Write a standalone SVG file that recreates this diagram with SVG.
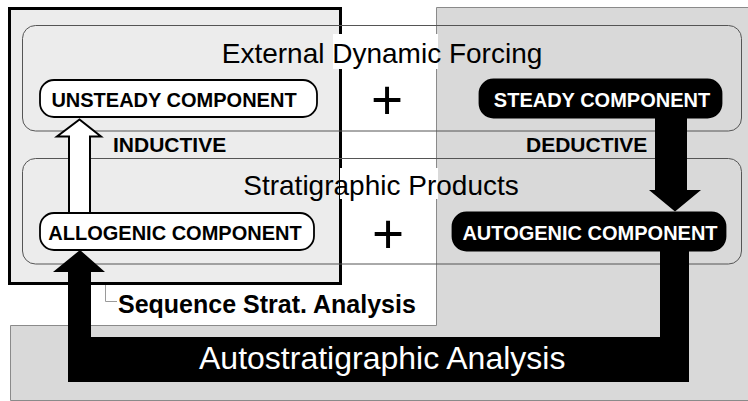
<svg xmlns="http://www.w3.org/2000/svg" width="748" height="401" viewBox="0 0 748 401">
  <style>
    .title { font-family: "Liberation Sans", Arial, sans-serif; font-size: 28px; fill: #000; text-anchor: middle; }
    .node-light rect { fill: #fff; stroke: #000; stroke-width: 1.8; }
    .node-dark rect { fill: #000; stroke: #000; stroke-width: 1.8; }
    .node-light text, .node-dark text { font-family: "Liberation Sans", Arial, sans-serif; font-weight: bold; font-size: 20px; text-anchor: middle; }
    .node-light text { fill: #000; }
    .node-dark text { fill: #fff; }
    .label { font-family: "Liberation Sans", Arial, sans-serif; font-weight: bold; font-size: 21px; fill: #000; }
    .plus { font-family: "Liberation Sans", Arial, sans-serif; font-size: 55px; fill: #000; text-anchor: middle; }
    .frame { fill: none; stroke: #555; stroke-width: 1; }
    .patch { fill: #fff; }
  </style>

  <!-- background -->
  <rect x="0" y="0" width="748" height="401" fill="#fff"/>

  <!-- autostratigraphic domain (grey L-shaped field) -->
  <path d="M436.5,7.5 H752 V400.5 H10.5 V325.5 H436.5 Z" fill="#d9d9d9" stroke="#8a8a8a" stroke-width="1"/>

  <!-- sequence stratigraphic domain (black frame) -->
  <rect id="seq-frame" x="9.5" y="8.5" width="331" height="275" fill="#ececec" stroke="#000" stroke-width="3"/>

  <!-- rounded panels -->
  <rect class="frame" x="22.5" y="25.5" width="719" height="105.5" rx="13"/>
  <rect class="frame" x="22.5" y="158.5" width="719" height="105.5" rx="13"/>

  <!-- title backgrounds -->
  <rect class="patch" x="333" y="34" width="105" height="35"/>
  <rect class="patch" x="340" y="168" width="98" height="31"/>

  <text class="title" x="382" y="63">External Dynamic Forcing</text>
  <text class="title" x="381" y="195">Stratigraphic Products</text>

  <!-- sequence stratigraphy label with bracket -->
  <g id="seq-label">
    <polyline points="105.5,285 105.5,301.5 117,301.5" fill="none" stroke="#9a9a9a" stroke-width="1"/>
    <text x="118" y="313" font-family="Liberation Sans, Arial, sans-serif" font-weight="bold" font-size="25">Sequence Strat. Analysis</text>
  </g>

  <!-- connectors -->
  <g id="connectors">
    <!-- inductive: allogenic -> unsteady (hollow arrow) -->
    <path id="inductive" d="M69,214 V136.5 H57 L79.5,119.5 L101,136.5 H90 V214" fill="#fff" stroke="#000" stroke-width="2" stroke-linejoin="miter"/>
    <!-- deductive: steady -> autogenic -->
    <path id="deductive" d="M655,112 H687 V190 H701 L675,211.5 L649,190 H655 Z" fill="#000"/>
    <!-- autostratigraphic analysis: autogenic -> allogenic -->
    <path id="autostrat" d="M660,245 H689 V382 H68 V272 H53 L80,250 L105,272 H91 V337 H660 Z" fill="#000"/>
    <text x="199" y="369" font-family="Liberation Sans, Arial, sans-serif" font-size="32" fill="#fff">Autostratigraphic Analysis</text>
  </g>

  <!-- nodes -->
  <g id="unsteady" class="node-light">
    <rect x="40" y="80" width="277" height="37" rx="14"/>
    <text x="174" y="107">UNSTEADY COMPONENT</text>
  </g>
  <g id="steady" class="node-dark">
    <rect x="479.5" y="79.5" width="242" height="38" rx="14"/>
    <text x="602" y="107">STEADY COMPONENT</text>
  </g>
  <g id="allogenic" class="node-light">
    <rect x="40" y="213" width="274" height="37" rx="14"/>
    <text x="175" y="240">ALLOGENIC COMPONENT</text>
  </g>
  <g id="autogenic" class="node-dark">
    <rect x="452.5" y="212.5" width="273" height="38" rx="14"/>
    <text x="590" y="240">AUTOGENIC COMPONENT</text>
  </g>

  <!-- operators and approach labels -->
  <text class="plus" x="387" y="119">+</text>
  <text class="plus" x="388" y="253">+</text>
  <text class="label" x="113" y="152">INDUCTIVE</text>
  <text class="label" x="526" y="152">DEDUCTIVE</text>
</svg>
